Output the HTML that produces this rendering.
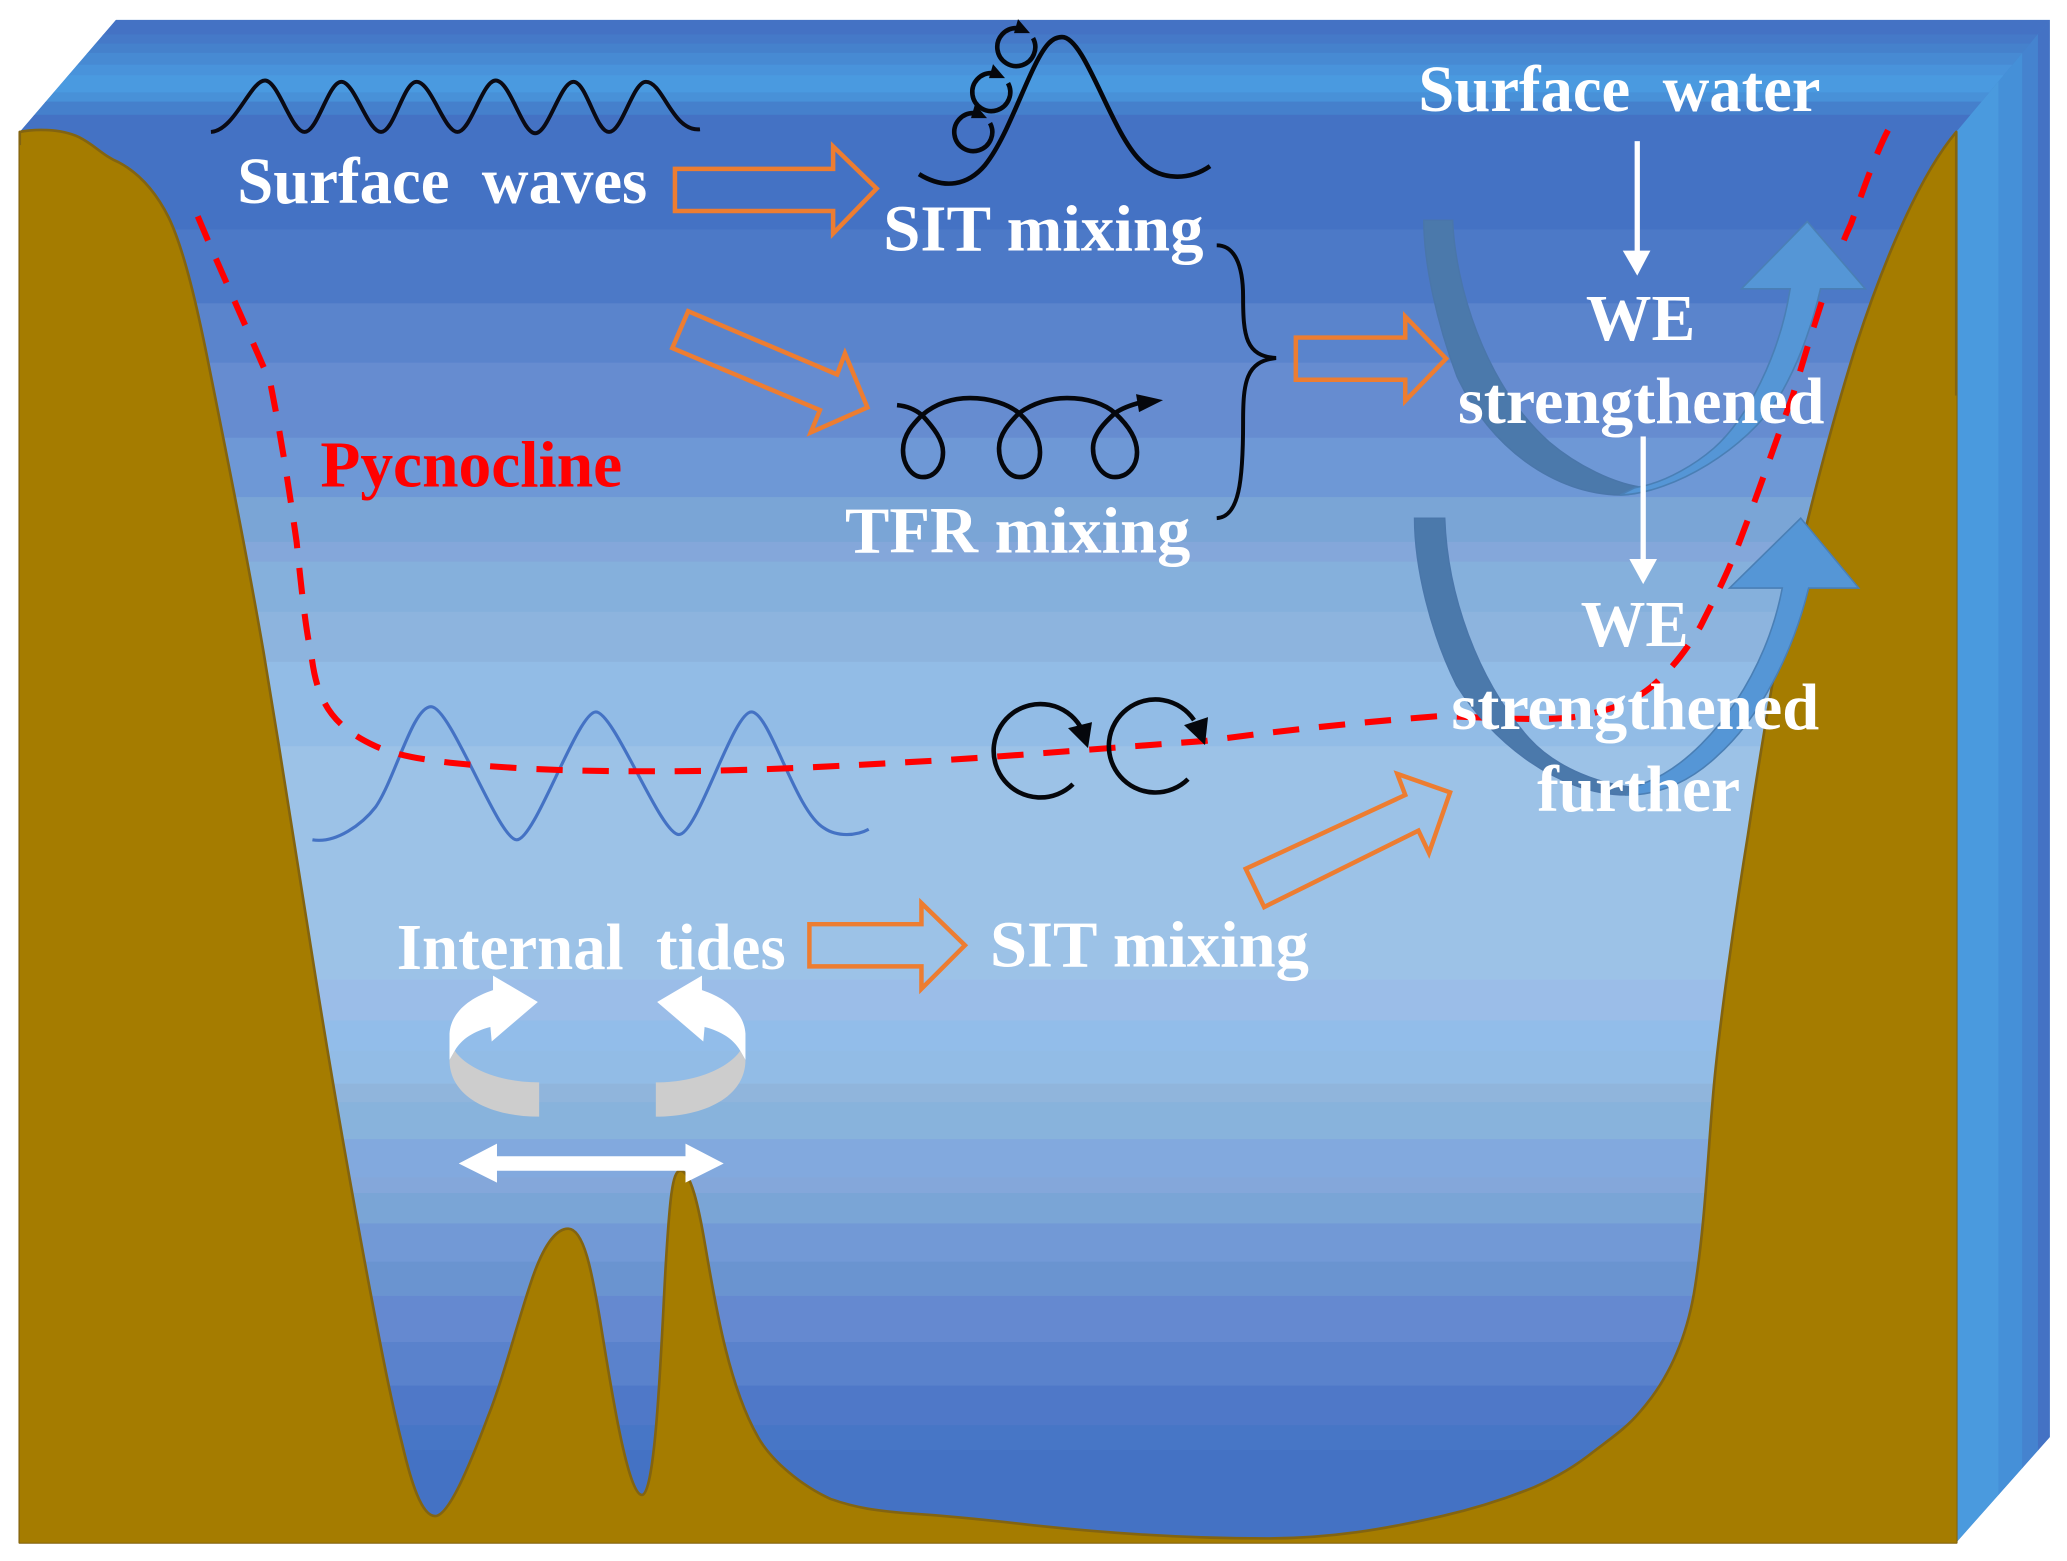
<!DOCTYPE html>
<html><head><meta charset="utf-8"><style>
html,body{margin:0;padding:0;background:#fff;width:2067px;height:1561px;overflow:hidden}
svg{display:block}
text{font-family:"Liberation Serif",serif;font-weight:bold;fill:#fff;font-size:50px}
</style></head><body>
<svg xmlns="http://www.w3.org/2000/svg" width="2067" height="1561" viewBox="0 0 1568 1184">
<defs>
<clipPath id="top"><polygon points="15,100 88,15 1555,15 1484,100"/></clipPath>
<clipPath id="side"><polygon points="1484,100 1555,15 1555,1090 1484,1170"/></clipPath>
</defs>
<rect width="1568" height="1184" fill="#fff"/>
<polygon points="15,100 88,15 1555,15 1555,1090 1484,1170 1484,100" fill="#4580cc"/>
<g clip-path="url(#top)">
<rect x="0" y="15" width="1568" height="12" fill="#4472c4"/>
<rect x="0" y="26" width="1568" height="8" fill="#4579c8"/>
<rect x="0" y="33" width="1568" height="8" fill="#4581cc"/>
<rect x="0" y="40" width="1568" height="10" fill="#478ad3"/>
<rect x="0" y="49" width="1568" height="9" fill="#4993db"/>
<rect x="0" y="57" width="1568" height="14" fill="#4a9ae0"/>
<rect x="0" y="70" width="1568" height="8" fill="#4891d8"/>
<rect x="0" y="77" width="1568" height="11" fill="#4580cc"/>
<rect x="0" y="87" width="1568" height="14" fill="#4472c4"/>
</g>
<g clip-path="url(#side)">
<rect x="1484" y="0" width="33" height="1184" fill="#4a9ade"/>
<rect x="1516" y="0" width="19" height="1184" fill="#4590d8"/>
<rect x="1534" y="0" width="13" height="1184" fill="#4583cf"/>
<rect x="1546" y="0" width="9" height="1184" fill="#4472c4"/>
</g>
<g>
<rect x="15" y="99" width="1469" height="76" fill="#4472c4"/>
<rect x="15" y="174" width="1469" height="57" fill="#4c79c7"/>
<rect x="15" y="230" width="1469" height="46" fill="#5a84cc"/>
<rect x="15" y="275" width="1469" height="58" fill="#668cd0"/>
<rect x="15" y="332" width="1469" height="46" fill="#6e98d6"/>
<rect x="15" y="377" width="1469" height="35" fill="#7aa5d6"/>
<rect x="15" y="411" width="1469" height="16" fill="#84a7da"/>
<rect x="15" y="426" width="1469" height="39" fill="#85b0dc"/>
<rect x="15" y="464" width="1469" height="39" fill="#8db4de"/>
<rect x="15" y="502" width="1469" height="65" fill="#92bce6"/>
<rect x="15" y="566" width="1469" height="178" fill="#9cc2e7"/>
<rect x="15" y="743" width="1469" height="32" fill="#9bbde8"/>
<rect x="15" y="774" width="1469" height="24" fill="#92bdea"/>
<rect x="15" y="797" width="1469" height="26" fill="#92bce6"/>
<rect x="15" y="822" width="1469" height="15" fill="#90b5dc"/>
<rect x="15" y="836" width="1469" height="29" fill="#88b3dc"/>
<rect x="15" y="864" width="1469" height="30" fill="#82a9de"/>
<rect x="15" y="893" width="1469" height="13" fill="#84a7da"/>
<rect x="15" y="905" width="1469" height="24" fill="#7aa5d6"/>
<rect x="15" y="928" width="1469" height="30" fill="#7299d6"/>
<rect x="15" y="957" width="1469" height="27" fill="#6a94d0"/>
<rect x="15" y="983" width="1469" height="36" fill="#6589d0"/>
<rect x="15" y="1018" width="1469" height="34" fill="#5a82cc"/>
<rect x="15" y="1051" width="1469" height="31" fill="#4f78c8"/>
<rect x="15" y="1081" width="1469" height="20" fill="#4776c6"/>
<rect x="15" y="1100" width="1469" height="70" fill="#4472c4"/>
</g>
<path d="M15 100 C25 98 45 97 60 104 C72 110 78 118 90 123 C105 131 118 145 128 165 C140 190 150 235 158 275 C172 345 188 425 200 495 C214 578 226 660 240 745 C252 820 266 900 280 975 C288 1017 296 1060 305 1095 C312 1125 320 1150 330 1150 C340 1150 355 1115 370 1075 C382 1045 392 1005 402 975 C410 950 420 932 431 932 C443 932 449 965 455 1000 C463 1050 476 1134 487 1134 C498 1134 502 1010 505 960 C508 910 510 888 516 888 C524 888 530 915 535 945 C542 985 552 1050 575 1090 C585 1108 608 1127 630 1137 C650 1144 665 1146 690 1148 C720 1150 750 1153 784 1157 C840 1163 900 1167 960 1167 C1010 1167 1050 1160 1094 1150 C1120 1144 1142 1137 1164 1128 C1182 1120 1195 1112 1209 1101 C1222 1091 1234 1083 1244 1071 C1266 1046 1280 1015 1286 975 C1293 930 1295 885 1299 837 C1303 785 1316 695 1326 633 C1334 580 1342 530 1352 478 C1362 430 1385 335 1408 262 C1420 225 1450 140 1484 100 L1484 1170 L15 1170 Z" fill="#a57c00" stroke="#836410" stroke-width="2" stroke-linejoin="round"/>
<rect x="15" y="1168" width="1469" height="2.2" fill="#a57c00"/>
<rect x="1482" y="300" width="2.2" height="870" fill="#a57c00"/>
<rect x="15" y="110" width="2.2" height="1060" fill="#a57c00"/>

<!-- surface waves -->
<path d="M160 100 C178 99 190 61 201 61 C211 61 221 100 231 100 C241 100 249 62 259 62 C269 62 279 100 289 100 C299 100 306 62 316 62 C327 62 337 100 347 100 C357 100 366 61 376 61 C387 61 396 101 406 101 C416 101 425 62 435 62 C445 62 452 100 462 100 C472 100 480 62 490 62 C503 62 510 100 531 98" fill="none" stroke="#0a0a14" stroke-width="3"/>

<!-- blue internal wave -->
<path d="M237 637 C255 640 275 625 285 612 C300 590 313 536 327 536 C342 536 378 637 392 637 C406 637 438 540 452 540 C466 540 501 633 515 633 C529 633 556 540 570 540 C584 540 603 615 625 628 C635 635 650 634 659 629" fill="none" stroke="#4472c4" stroke-width="2.4"/>

<!-- pycnocline -->
<path d="M150 164 C165 200 190 255 205 290 C215 340 222 390 225 411 C228 440 232 480 236 495 C240 530 250 550 285 566 C310 577 350 580 400 583 C440 585 470 585 500 585 C560 585 620 582 690 578 C750 575 830 568 914 562 C980 553 1040 547 1094 543 C1140 545 1180 547 1199 543 C1225 538 1245 530 1259 515 C1270 505 1280 492 1290 475 C1300 455 1308 440 1316 420 C1330 385 1345 340 1360 300 C1375 250 1390 200 1404 170 C1415 140 1425 110 1436 92" fill="none" stroke="#ff0000" stroke-width="4.6" stroke-dasharray="20 15"/>

<!-- details in original-pixel coordinates -->
<g transform="scale(.7586)" fill="none" stroke="#05070c" stroke-width="4.6">
<path d="M919 174 C945 190 968 185 985 165 C1005 140 1020 95 1035 65 C1045 45 1052 37 1062 37 C1085 37 1110 130 1140 160 C1160 182 1190 180 1210 166"/>
<path d="M1033 38 A19 19 0 1 1 1017 28"/>
<path d="M1008 83 A19 19 0 1 1 992 73"/>
<path d="M990 123 A19 19 0 1 1 974 113"/>
<path d="M897 405 C908 406 916 410 922 415 C934 428 943 440 943 452 C943 467 934 477 923 477 C912 477 903 465 903 450 C903 434 914 423 922 415 C934 405 950 398 970 398 C990 398 1008 404 1019 413 C1032 425 1040 438 1040 452 C1040 467 1031 477 1020 477 C1008 477 999 464 999 448 C999 434 1010 422 1019 413 C1032 404 1048 398 1067 398 C1088 398 1105 404 1115 413 C1128 425 1137 438 1137 452 C1137 467 1127 477 1115 477 C1103 477 1093 464 1093 448 C1093 434 1105 422 1115 413 C1122 408 1130 405 1142 402"/>
<path d="M1073 784 A46.7 46.7 0 1 1 1080 726"/>
<path d="M1188 779 A46.5 46.5 0 1 1 1194 720"/>
<g fill="#05070c" stroke="none">
<polygon points="1018,19 1030,33 1014,33"/>
<polygon points="993,64 1005,78 989,78"/>
<polygon points="975,104 987,118 971,118"/>
<polygon points="1163,400 1136,394 1139,412"/>
<polygon points="1092,722 1068,728 1088,748"/>
<polygon points="1208,717 1184,725 1205,745"/>
</g>
</g>

<!-- brace -->
<path d="M923 186 C936 186 943 200 943 225 C943 255 945 270 968 271.5 C945 274 943 290 943 320 C943 365 940 392 923 393" fill="none" stroke="#05070c" stroke-width="3"/>

<!-- U arrows -->
<path d="M1080 167 L1102 167 C1104 215 1125 290 1175 335 C1195 352 1225 368 1250 370 C1245 374 1235 375.5 1229 375.5 C1180 375 1130 340 1105 285 C1090 245 1080 200 1080 167 Z" fill="#4b79ab" stroke="#4a76aa" stroke-width="1"/>
<path d="M1229 375.5 C1270 374 1325 340 1349 302 C1365 275 1375 245 1381 219 L1415 219 L1371 168 L1321 219 L1358 219 C1350 270 1325 318 1300 340 C1285 353 1265 364 1249 368 L1240 370 Z" fill="#5596d6" stroke="#4a7fb5" stroke-width="1.2"/>
<path d="M1073 393 L1096 393 C1098 450 1120 515 1160 560 C1180 582 1215 597 1250 598 C1245 602 1238 603 1234 603 C1180 603 1130 560 1105 520 C1085 480 1073 430 1073 393 Z" fill="#4b79ab" stroke="#4a76aa" stroke-width="1"/>
<path d="M1234 603 C1262 603 1285 590 1302 574 C1335 545 1360 495 1372 446 L1410 446 L1366 393 L1312 446 L1352 446 C1340 510 1300 565 1262 587 C1255 591 1248 594 1240 597 Z" fill="#5596d6" stroke="#4a7fb5" stroke-width="1.2"/>

<!-- orange block arrows -->
<g fill="none" stroke="#ed7d31" stroke-width="3.4">
<polygon points="512,128 632,128 632,111 665,143 632,177 632,160 512,160"/>
<polygon points="522,236 635,284 641,268 658,309 615,328 622,311 510,264"/>
<polygon points="983,256 1066,256 1066,240 1097,272 1066,304 1066,288 983,288"/>
<polygon points="614,701 699,701 699,685 732,717 699,750 699,733 614,733"/>
<polygon points="945,659 1066,603 1060,587 1100,601 1084,647 1076,630 959,688"/>
</g>

<!-- white thin arrows -->
<g fill="#fff" stroke="none">
<rect x="1240" y="107" width="4" height="84"/>
<polygon points="1231,190 1252,190 1242,209"/>
<rect x="1244.5" y="331" width="4" height="94"/>
<polygon points="1236,424 1257,424 1246.5,443"/>
<!-- double arrow -->
<polygon points="348,882.5 377,867.5 377,877 520,877 520,867.5 549,882.5 520,897 520,888 377,888 377,897"/>
<!-- curved arrows -->
<path d="M374 740 L408 760 L373 790 L372 779 C360 782 350 788 345 797 L341 804 L341 784 C342 768 356 757 374 751 Z"/>
<path d="M532.5 740 L498.5 760 L533.5 790 L534.5 779 C546.5 782 556.5 788 561.5 797 L565.5 804 L565.5 784 C564.5 768 550.5 757 532.5 751 Z"/>
<path d="M345 797 C352 808 375 821 409 821 L409 847 C372 847 341 832 341 804 Z" fill="#cdcdcd"/>
<path d="M561.5 797 C554.5 808 531.5 821 497.5 821 L497.5 847 C534.5 847 565.5 832 565.5 804 Z" fill="#cdcdcd"/>
</g>

<!-- labels -->
<text x="180" y="154" textLength="311" lengthAdjust="spacingAndGlyphs" xml:space="preserve">Surface  waves</text>
<text x="670" y="190" textLength="243" lengthAdjust="spacingAndGlyphs">SIT mixing</text>
<text x="641" y="419" textLength="262" lengthAdjust="spacingAndGlyphs">TFR mixing</text>
<text x="243" y="369" textLength="229" lengthAdjust="spacingAndGlyphs" style="fill:#ff0000">Pycnocline</text>
<text x="1076" y="84" textLength="305" lengthAdjust="spacingAndGlyphs" xml:space="preserve">Surface  water</text>
<text x="1203" y="258" textLength="83" lengthAdjust="spacingAndGlyphs">WE</text>
<text x="1106" y="321" textLength="278" lengthAdjust="spacingAndGlyphs">strengthened</text>
<text x="1199" y="490" textLength="82" lengthAdjust="spacingAndGlyphs">WE</text>
<text x="1101" y="553" textLength="279" lengthAdjust="spacingAndGlyphs">strengthened</text>
<text x="1166" y="615" textLength="154" lengthAdjust="spacingAndGlyphs">further</text>
<text x="301" y="735" textLength="295" lengthAdjust="spacingAndGlyphs" xml:space="preserve">Internal  tides</text>
<text x="751" y="733" textLength="242" lengthAdjust="spacingAndGlyphs">SIT mixing</text>
</svg>
</body></html>
